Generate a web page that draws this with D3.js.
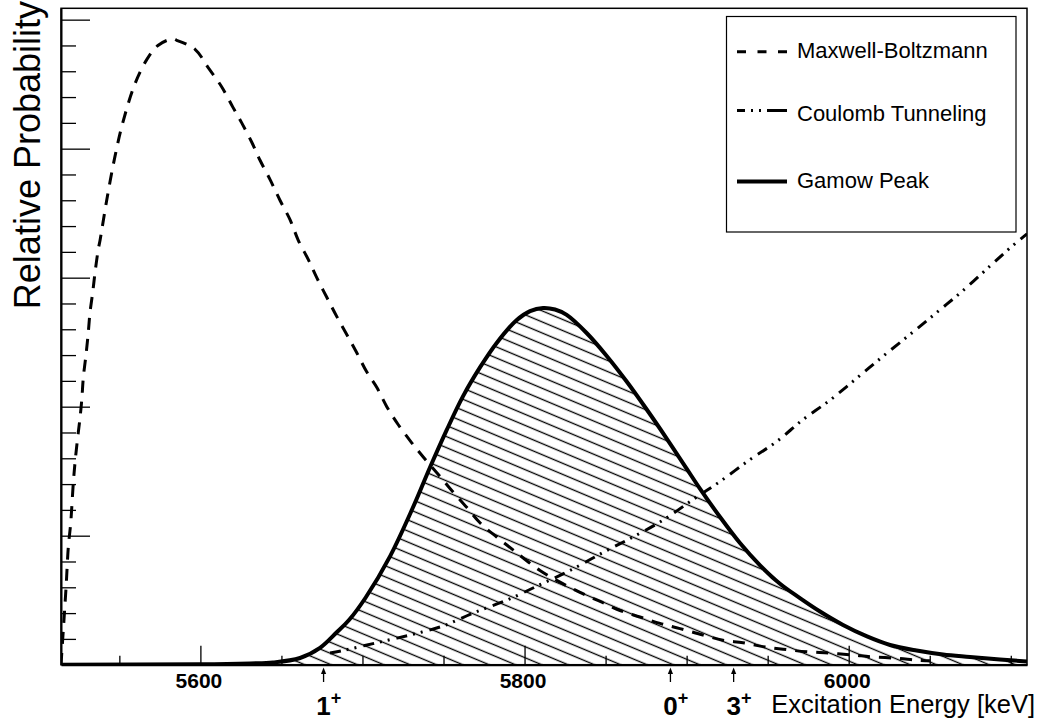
<!DOCTYPE html>
<html><head><meta charset="utf-8">
<script src="https://cdn.jsdelivr.net/npm/d3@7"></script>
<style>body{margin:0;background:#fff} svg{display:block}</style>
</head><body>
<svg id="chart" width="1049" height="728"></svg>
<script>
// ---- data ----
const mbEnergy = [5514.0,5517.1,5518.5,5520.0,5521.6,5522.6,5524.1,5525.7,5526.8,5527.8,5529.4,5530.8,5531.9,5533.6,5535.0,5537.0,5538.1,5542.2,5547.3,5552.3,5559.7,5566.9,5573.8,5582.5,5585.4,5596.7,5604.7,5613.1,5620.1,5625.5,5631.7,5636.8,5643.0,5649.1,5655.3,5660.4,5666.6,5671.8,5677.9,5684.1,5690.3,5696.4,5702.6,5708.8,5715.0,5722.1,5730.4,5737.5,5747.8,5755.1,5764.3,5772.5,5782.8,5792.9,5809.5,5821.9,5834.2,5846.6,5858.9,5871.2,5883.6,5895.9,5910.1,5922.4,5934.8,5947.1,5959.5,5974.3,5988.4,6002.6,6015.0,6029.8,6042.1,6050.1];
const mbValue  = [0,0.595,0.91,1.10,1.41,1.56,1.74,1.91,2.05,2.23,2.40,2.57,2.73,2.89,3.04,3.22,3.29,3.60,3.94,4.21,4.505,4.69,4.80,4.85,4.84,4.77,4.63,4.48,4.32,4.20,4.05,3.91,3.76,3.60,3.45,3.29,3.14,3.00,2.85,2.70,2.56,2.42,2.27,2.15,2.00,1.86,1.72,1.61,1.46,1.35,1.22,1.10,0.99,0.89,0.73,0.64,0.56,0.49,0.42,0.37,0.32,0.28,0.23,0.19,0.17,0.14,0.12,0.10,0.09,0.075,0.06,0.05,0.035,0.03];

const ctEnergy = [5680.0,5688.0,5708.8,5729.3,5749.7,5768.2,5789.0,5809.5,5828.0,5848.4,5866.9,5885.4,5903.9,5920.6,5939.1,5955.6,5971.8,5988.4,6004.9,6021.1,6037.8,6054.3,6070.5,6087.2,6099.5,6110.0];
const ctValue  = [0.09,0.11,0.17,0.23,0.30,0.40,0.50,0.62,0.73,0.87,0.99,1.12,1.28,1.42,1.59,1.73,1.90,2.05,2.22,2.39,2.56,2.73,2.90,3.09,3.23,3.34];

const gpEnergy = [5514.0,5599.8,5630.6,5644.8,5661.5,5673.8,5684.3,5691.7,5702.0,5717.0,5731.2,5741.7,5752.0,5762.0,5772.7,5782.8,5795.2,5803.4,5811.4,5818.8,5826.0,5838.3,5850.7,5863.0,5875.4,5887.7,5900.0,5908.2,5920.6,5932.9,5945.3,5957.6,5969.9,5982.3,5996.5,6011.3,6025.5,6041.9,6058.2,6074.8,6093.3,6110.0];
const gpValue  = [0,0.003,0.01,0.017,0.052,0.13,0.253,0.346,0.521,0.84,1.22,1.53,1.82,2.08,2.308,2.494,2.672,2.741,2.765,2.753,2.711,2.571,2.393,2.195,1.978,1.753,1.520,1.365,1.145,0.943,0.770,0.627,0.516,0.412,0.308,0.219,0.153,0.110,0.079,0.060,0.040,0.025];

const levelEnergy = [5676, 5890, 5929];
const levelSpin   = ["1", "0", "3"];
const levelParity = ["+", "+", "+"];

const xMajorTicks = [5600, 5800, 6000];
const xMinorTicks = [5550, 5650, 5700, 5750, 5850, 5900, 5950, 6050, 6100];
const yMajorTicks = [1, 2, 3, 4, 5];
const yMinorTicks = [0.2,0.4,0.6,0.8,1.2,1.4,1.6,1.8,2.2,2.4,2.6,2.8,3.2,3.4,3.6,3.8,4.2,4.4,4.6,4.8];

const seriesNames = ["Maxwell-Boltzmann", "Coulomb Tunneling", "Gamow Peak"];
const xTitle = "Excitation Energy [keV]";
const yTitle = "Relative Probability";

// ---- layout ----
const FONT = "'Liberation Sans', Arial, Helvetica, sans-serif";
const L = 61, R = 1027, T = 8.3, B = 664.7;
const x = d3.scaleLinear().domain([5514, 6110]).range([L, R]);
const y = d3.scaleLinear().domain([0, 5.088]).range([B, T]);

const svg = d3.select("#chart");
svg.append("rect").attr("width", 1049).attr("height", 728).attr("fill", "#fff");
const defs = svg.append("defs");
defs.append("clipPath").attr("id", "clip")
  .append("rect").attr("x", L).attr("y", T).attr("width", R - L).attr("height", B - T);
const pat = defs.append("pattern").attr("id", "hatch")
  .attr("patternUnits", "userSpaceOnUse").attr("width", 20).attr("height", 10.2)
  .attr("patternTransform", "rotate(22.8)");
pat.append("rect").attr("x", 0).attr("y", 4.4).attr("width", 20).attr("height", 1.35).attr("fill", "#000");

const zip = (a, b) => a.map((e, i) => [e, b[i]]);
const mb = zip(mbEnergy, mbValue), ct = zip(ctEnergy, ctValue), gp = zip(gpEnergy, gpValue);

const plot = svg.append("g").attr("clip-path", "url(#clip)");
const smooth = d3.curveCatmullRom.alpha(0.5);
const line = d3.line().x(d => x(d[0])).y(d => y(d[1])).curve(smooth);
const area = d3.area().x(d => x(d[0])).y0(y(0)).y1(d => y(d[1])).curve(smooth);

plot.append("path").datum(gp).attr("d", area).attr("fill", "url(#hatch)");
plot.append("path").datum(mb).attr("d", line).attr("fill", "none")
  .attr("stroke", "#000").attr("stroke-width", 3).attr("stroke-dasharray", "12,9");
plot.append("path").datum(ct).attr("d", line).attr("fill", "none")
  .attr("stroke", "#000").attr("stroke-width", 3).attr("stroke-dasharray", "11,6,2,6,2,7");
plot.append("path").datum(gp).attr("d", line).attr("fill", "none")
  .attr("stroke", "#000").attr("stroke-width", 4).attr("stroke-linejoin", "round");

// frame
svg.append("rect").attr("x", L).attr("y", T).attr("width", R - L).attr("height", B - T)
  .attr("fill", "none").attr("stroke", "#000").attr("stroke-width", 1.5);

// x axis
const gx = svg.append("g").attr("transform", `translate(0,${B})`)
  .call(d3.axisBottom(x).tickValues(xMajorTicks).tickSize(-19).tickSizeOuter(0).tickFormat(d3.format("d")));
gx.select(".domain").attr("stroke-width", 2);
gx.selectAll(".tick line").attr("stroke-width", 1.3);
gx.selectAll(".tick text").attr("y", 23.3).attr("dy", null).attr("x", -2)
  .attr("font-family", FONT).attr("font-size", 21).attr("font-weight", "bold").attr("fill", "#000");
const gxm = svg.append("g").attr("transform", `translate(0,${B})`)
  .call(d3.axisBottom(x).tickValues(xMinorTicks).tickSize(-9).tickFormat(""));
gxm.select(".domain").remove();
gxm.selectAll(".tick line").attr("stroke-width", 1.3);

// y axis
const gy = svg.append("g").attr("transform", `translate(${L},0)`)
  .call(d3.axisLeft(y).tickValues(yMajorTicks).tickSize(-29).tickSizeOuter(0).tickFormat(""));
gy.select(".domain").attr("stroke-width", 2);
gy.selectAll(".tick line").attr("stroke-width", 1.3);
const gym = svg.append("g").attr("transform", `translate(${L},0)`)
  .call(d3.axisLeft(y).tickValues(yMinorTicks).tickSize(-15).tickFormat(""));
gym.select(".domain").remove();
gym.selectAll(".tick line").attr("stroke-width", 1.3);

// titles
svg.append("text").attr("x", 1035).attr("y", 713).attr("text-anchor", "end")
  .attr("font-family", FONT).attr("font-size", 25.5).attr("fill", "#000").text(xTitle);
svg.append("text").attr("transform", "translate(40,1) rotate(-90)").attr("text-anchor", "end")
  .attr("font-family", FONT).attr("font-size", 36).attr("fill", "#000").text(yTitle);

// level markers
const lv = svg.append("g");
levelEnergy.forEach((e, i) => {
  const xa = x(e);
  lv.append("line").attr("x1", xa).attr("x2", xa).attr("y1", 682).attr("y2", 671)
    .attr("stroke", "#000").attr("stroke-width", 1.3);
  lv.append("path").attr("d", `M${xa - 2.6},674 L${xa},667.5 L${xa + 2.6},674 Z`).attr("fill", "#000");
  const t = lv.append("text").attr("x", xa - 7.2).attr("y", 715)
    .attr("font-family", FONT).attr("font-weight", "bold").attr("font-size", 26).attr("fill", "#000");
  t.append("tspan").text(levelSpin[i]);
  t.append("tspan").attr("font-size", 18).attr("dy", -11).text(levelParity[i]);
});

// legend
const lg = svg.append("g");
lg.append("rect").attr("x", 726.5).attr("y", 16.5).attr("width", 289.5).attr("height", 215.5)
  .attr("fill", "#fff").attr("stroke", "#000").attr("stroke-width", 1.2);
const legLineY = [51.7, 110.5, 181.5];
const legTextY = [57.5, 121, 188];
const legDash = ["9,11.5", "8,6,2,6,2,6,50", null];
const legWidth = [3, 3, 4];
seriesNames.forEach((n, i) => {
  const l = lg.append("line").attr("x1", 737).attr("x2", 787).attr("y1", legLineY[i]).attr("y2", legLineY[i])
    .attr("stroke", "#000").attr("stroke-width", legWidth[i]);
  if (legDash[i]) l.attr("stroke-dasharray", legDash[i]);
  lg.append("text").attr("x", 797).attr("y", legTextY[i]).attr("font-family", FONT)
    .attr("font-size", 22).attr("fill", "#000").text(n);
});
</script>
</body></html>
